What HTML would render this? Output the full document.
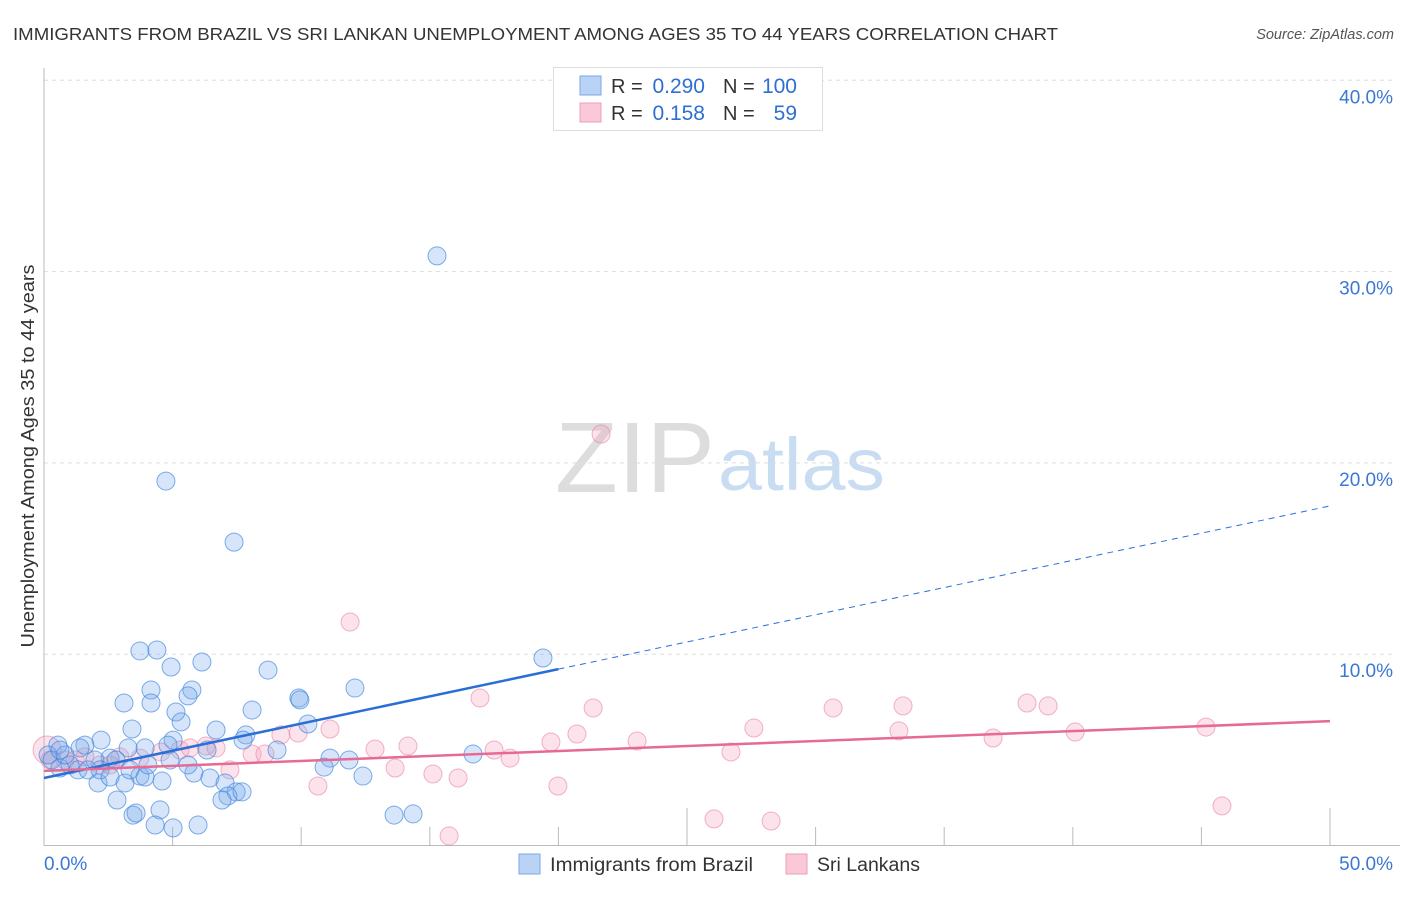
<!DOCTYPE html>
<html><head><meta charset="utf-8"><style>
body{margin:0;background:#fff;font-family:"Liberation Sans",sans-serif;}
svg text{font-family:"Liberation Sans",sans-serif;}
</style></head><body>
<svg id="chart" width="1406" height="892">
<text x="13" y="40" font-size="17.5" fill="#333" textLength="1045" lengthAdjust="spacingAndGlyphs">IMMIGRANTS FROM BRAZIL VS SRI LANKAN UNEMPLOYMENT AMONG AGES 35 TO 44 YEARS CORRELATION CHART</text>
<text x="1394" y="39" font-size="14.5" fill="#555" font-style="italic" text-anchor="end">Source: ZipAtlas.com</text>
<text x="555" y="492" font-size="100" fill="#ddd" textLength="160" lengthAdjust="spacingAndGlyphs" font-family="Liberation Serif">ZIP</text>
<text x="718" y="490" font-size="74" fill="#c8dcf2" textLength="167" lengthAdjust="spacingAndGlyphs">atlas</text>
<g id="grid"></g>
<g id="marks"></g>
<text transform="translate(34,456) rotate(-90)" font-size="18" fill="#333" text-anchor="middle" textLength="383" lengthAdjust="spacingAndGlyphs">Unemployment Among Ages 35 to 44 years</text>
<g>
<rect x="553.5" y="67.5" width="269" height="63" fill="#fff" stroke="#ddd"/>
<rect x="580" y="76" width="21" height="19" fill="#b9d3f5" stroke="#7aa9e6"/>
<rect x="580" y="103" width="21" height="19" fill="#fac8d7" stroke="#ee9fb8"/>
<text x="611" y="93" font-size="20" fill="#333">R =</text>
<text x="705" y="93" font-size="21" fill="#2e6fd0" text-anchor="end">0.290</text>
<text x="723" y="93" font-size="20" fill="#333">N =</text>
<text x="797" y="93" font-size="21" fill="#2e6fd0" text-anchor="end">100</text>
<text x="611" y="120" font-size="20" fill="#333">R =</text>
<text x="705" y="120" font-size="21" fill="#2e6fd0" text-anchor="end">0.158</text>
<text x="723" y="120" font-size="20" fill="#333">N =</text>
<text x="797" y="120" font-size="21" fill="#2e6fd0" text-anchor="end">59</text>
</g>
<g>
<rect x="519" y="854" width="21" height="20" fill="#b9d3f5" stroke="#7aa9e6"/>
<text x="550" y="871" font-size="19" fill="#333" textLength="203" lengthAdjust="spacingAndGlyphs">Immigrants from Brazil</text>
<rect x="786" y="854" width="21" height="20" fill="#fac8d7" stroke="#ee9fb8"/>
<text x="817" y="871" font-size="19" fill="#333" textLength="103" lengthAdjust="spacingAndGlyphs">Sri Lankans</text>
</g>
</svg>
<script>
const blueX=[15.28,4.74,7.39,19.40,3.73,4.39,6.14,4.94,8.71,4.16,5.75,5.60,12.09,9.91,9.95,3.11,4.16,8.09,5.13,5.33,10.26,3.42,6.69,7.85,7.74,2.22,5.02,4.82,1.59,0.54,6.34,3.27,3.93,9.06,11.12,11.86,16.68,10.89,2.57,2.80,5.83,6.45,7.04,7.47,7.15,7.70,6.92,3.73,3.93,4.59,2.10,3.15,2.84,4.51,3.46,3.58,4.32,5.02,5.99,13.61,14.35,12.40,0.16,0.31,0.62,1.01,1.32,1.71,1.98,2.18,0.82,2.57,3.34,4.04,4.90,5.60,0.62,1.40];
const blueY=[30.82,19.05,15.86,9.80,10.17,10.22,9.59,9.33,9.17,8.13,8.13,7.82,8.23,7.71,7.61,7.45,7.45,7.08,6.98,6.46,6.35,6.09,6.04,5.78,5.51,5.51,5.51,5.25,5.25,5.25,4.99,5.10,5.10,4.99,4.57,4.47,4.78,4.10,4.57,4.47,3.79,3.53,3.27,2.80,2.59,2.80,2.38,3.63,3.58,3.37,3.27,3.27,2.38,1.86,1.59,1.70,1.07,0.92,1.07,1.59,1.65,3.63,4.73,4.47,4.05,4.21,3.95,3.95,4.47,3.95,4.73,3.58,3.95,4.21,4.47,4.21,4.99,5.10];
const pinkX=[0.12,21.66,11.90,16.95,21.35,30.68,33.40,38.22,39.04,27.60,11.12,9.21,9.88,45.18,20.72,40.09,33.24,23.06,36.90,19.71,14.15,12.87,17.50,6.30,6.69,8.09,8.59,26.71,18.12,4.55,2.95,3.73,1.59,7.23,13.65,15.12,16.10,19.98,10.65,45.80,26.05,28.27,15.75,0.23,0.82,1.21,2.18,2.57,5.29,5.68];
const pinkY=[4.99,21.51,11.68,7.71,7.19,7.19,7.30,7.45,7.30,6.14,6.09,5.78,5.88,6.19,5.83,5.93,5.99,5.46,5.62,5.41,5.20,5.04,4.99,5.20,5.10,4.78,4.78,4.89,4.57,4.89,4.63,4.57,4.63,3.95,4.05,3.74,3.53,3.11,3.11,2.07,1.39,1.28,0.50,4.47,4.47,4.47,4.21,4.21,4.99,5.10];
const blueTrend=[3.53,17.75];
const pinkTrend=[3.9,6.5];
const yTicks=[10,20,30,40];
const yTickLabels=["10.0%","20.0%","30.0%","40.0%"];
const xTicks=[0,5,10,15,20,25,30,35,40,45,50];
const xTickLabels=["0.0%","50.0%"];
const NS="http://www.w3.org/2000/svg";
const sx=v=>44+v*25.72, sy=v=>845.5-v*19.13;
function mk(tag,attrs,parent){const e=document.createElementNS(NS,tag);for(const k in attrs)e.setAttribute(k,attrs[k]);parent.appendChild(e);return e;}
const grid=document.getElementById('grid'), marks=document.getElementById('marks');
yTicks.forEach((t,i)=>{
  const l=mk('line',{x1:44,x2:1392,y1:sy(t),y2:sy(t),stroke:'#ddd','stroke-dasharray':'4,4'},grid);
  
  
  const tx=mk('text',{x:1393,y:sy(t)+23,'font-size':19,fill:'#3a78d4','text-anchor':'end'},grid);
  tx.textContent=yTickLabels[i];
  
  
});
const ax=mk('line',{x1:44,x2:44,y1:68,y2:845.5,stroke:'#bbb'},grid);


const bx=mk('line',{x1:44,x2:1400,y1:845.5,y2:845.5,stroke:'#bbb'},grid);


xTicks.forEach((t,i)=>{
  const long=(i==5||i==10);
  const l=mk('line',{x1:sx(t),x2:sx(t),y1:long?808:827,y2:845.5,stroke:'#bbb'},grid);
  
  
});
[[0,'start',xTickLabels[0]],[50,'end',xTickLabels[1]]].forEach(([t,a,s])=>{
  const tx=mk('text',{x:a=='start'?sx(t):1393,y:870,'font-size':19,fill:'#3a78d4','text-anchor':a},grid);
  tx.textContent=s;
  
  
});
pinkX.forEach((x,i)=>{
  const c=mk('circle',{cx:sx(x),cy:sy(pinkY[i]),r:i==0?14:9,fill:'rgba(244,160,188,0.3)',stroke:'rgba(232,130,165,0.6)','stroke-width':1},marks);
  
  
});
blueX.forEach((x,i)=>{
  const c=mk('circle',{cx:sx(x),cy:sy(blueY[i]),r:9,fill:'rgba(120,170,235,0.3)',stroke:'rgba(60,130,220,0.65)','stroke-width':1},marks);
  
  
});
const bAt=x=>blueTrend[0]+(blueTrend[1]-blueTrend[0])*x/50;
const t1=mk('line',{x1:sx(0),y1:sy(bAt(0)),x2:sx(20),y2:sy(bAt(20)),stroke:'#2a6fd6','stroke-width':2.5},marks);


const t2=mk('line',{x1:sx(20),y1:sy(bAt(20)),x2:sx(50),y2:sy(bAt(50)),stroke:'#2a6fd6','stroke-width':1,'stroke-dasharray':'6,5'},marks);


const t3=mk('line',{x1:sx(0),y1:sy(pinkTrend[0]),x2:sx(50),y2:sy(pinkTrend[1]),stroke:'#e66a93','stroke-width':2.5},marks);


</script>
</body></html>
